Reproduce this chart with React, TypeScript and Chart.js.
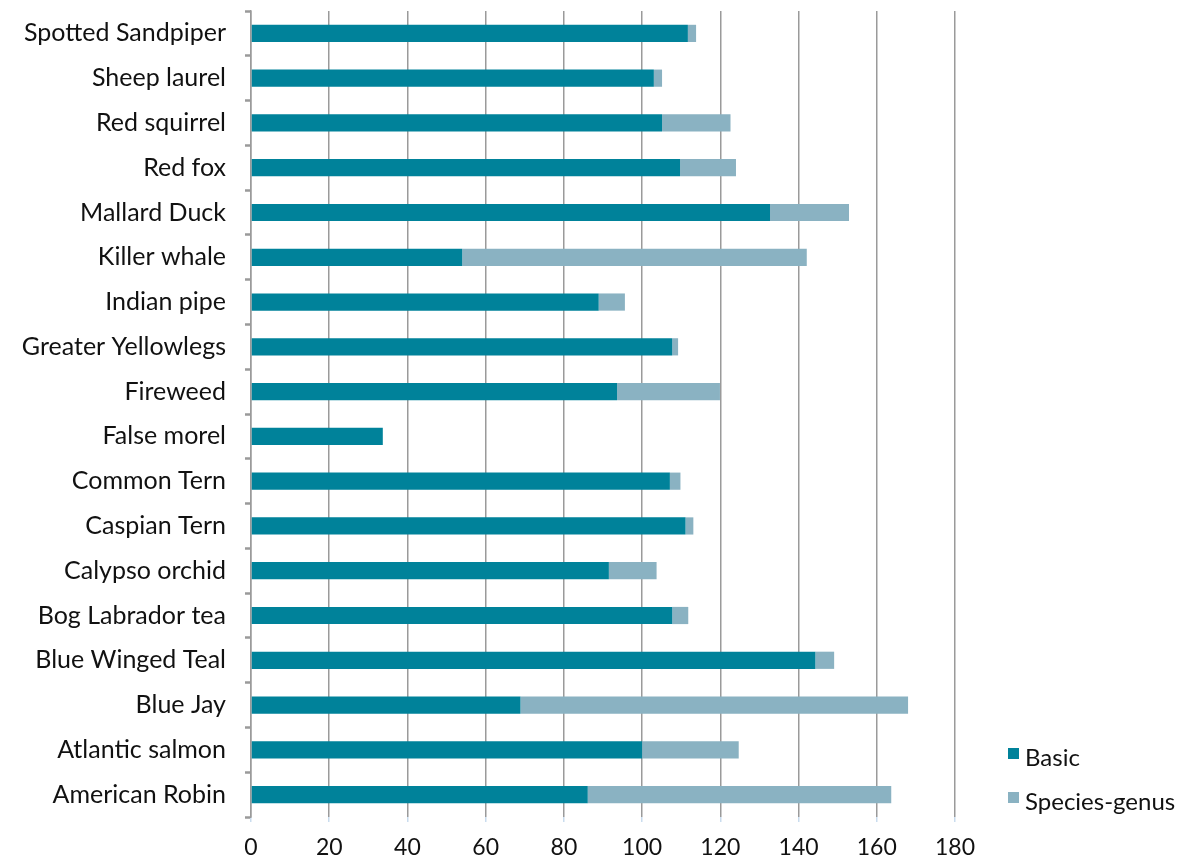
import React, { useEffect, useRef } from "react";
import { Chart, registerables } from "chart.js";

Chart.register(...registerables);

const categories = [
  "Spotted Sandpiper",
  "Sheep laurel",
  "Red squirrel",
  "Red fox",
  "Mallard Duck",
  "Killer whale",
  "Indian pipe",
  "Greater Yellowlegs",
  "Fireweed",
  "False morel",
  "Common Tern",
  "Caspian Tern",
  "Calypso orchid",
  "Bog Labrador tea",
  "Blue Winged Teal",
  "Blue Jay",
  "Atlantic salmon",
  "American Robin",
];

const basicValues = [
  111.7, 103.0, 105.1, 109.7, 132.7, 54.0, 88.9, 107.7, 93.6, 33.7, 107.1, 111.1, 91.5, 107.7, 144.3, 68.9, 100.0, 86.1,
];

const speciesGenusValues = [
  2.1, 2.1, 17.5, 14.3, 20.2, 88.1, 6.7, 1.5, 26.3, 0, 2.7, 2.0, 12.2, 4.1, 4.8, 99.1, 24.7, 77.6,
];

const seriesNames = ["Basic", "Species-genus"];
const seriesColors = ["#00829A", "#8AB2C2"];

const xTickMin = 0;
const xTickMax = 180;
const xTickStep = 20;

const FONT = "Lato, 'Open Sans', sans-serif";

const legendPlugin = {
  id: "customLegend",
  afterDraw(chart: any) {
    const ctx = chart.ctx;
    ctx.save();
    ctx.font = `24px ${FONT}`;
    ctx.textBaseline = "alphabetic";
    ctx.textAlign = "left";
    const baselines = [766, 810];
    chart.data.datasets.forEach((ds: any, i: number) => {
      const base = baselines[i];
      ctx.fillStyle = ds.backgroundColor;
      ctx.fillRect(1008, base - 18, 11, 11);
      ctx.fillStyle = "#111";
      ctx.fillText(ds.label, 1025, base);
    });
    ctx.restore();
  },
};

export default function App() {
  const canvasRef = useRef<HTMLCanvasElement | null>(null);

  useEffect(() => {
    if (!canvasRef.current) return;
    const chart = new Chart(canvasRef.current, {
      type: "bar",
      data: {
        labels: categories,
        datasets: [
          {
            label: seriesNames[0],
            data: basicValues,
            backgroundColor: seriesColors[0],
            categoryPercentage: 0.8,
            barPercentage: 0.48,
          },
          {
            label: seriesNames[1],
            data: speciesGenusValues,
            backgroundColor: seriesColors[1],
            categoryPercentage: 0.8,
            barPercentage: 0.48,
          },
        ],
      },
      options: {
        indexAxis: "y",
        responsive: true,
        maintainAspectRatio: false,
        animation: false,
        layout: { padding: { top: 11, right: 224, bottom: 0, left: 0 } },
        plugins: {
          legend: { display: false },
          tooltip: { enabled: false },
        },
        scales: {
          x: {
            stacked: true,
            min: xTickMin,
            max: xTickMax,
            afterFit: (scale: any) => {
              scale.height = 44;
            },
            ticks: {
              stepSize: xTickStep,
              color: "#111",
              font: { family: FONT, size: 23 },
              padding: 12,
            },
            grid: {
              display: true,
              drawOnChartArea: true,
              drawTicks: true,
              tickLength: 5,
              color: "#9a9a9a",
              lineWidth: 1.5,
              tickColor: "#c9dcee",
              tickWidth: 1.5,
            },
            border: { display: false },
          },
          y: {
            stacked: true,
            afterFit: (scale: any) => {
              scale.width = 251;
              scale.paddingTop = 0;
              scale.paddingBottom = 0;
            },
            ticks: {
              color: "#111",
              font: { family: FONT, size: 25 },
              padding: 19,
            },
            grid: {
              display: true,
              offset: true,
              drawOnChartArea: false,
              drawTicks: true,
              tickLength: 6,
              tickColor: "#9a9a9a",
              tickWidth: 2.5,
            },
            border: { display: true, color: "#9a9a9a", width: 1.5 },
          },
        },
      },
      plugins: [legendPlugin],
    });
    return () => chart.destroy();
  }, []);

  return (
    <div style={{ position: "absolute", left: 0, top: 0, width: 1179, height: 861, background: "#fff" }}>
      <canvas ref={canvasRef} />
    </div>
  );
}
